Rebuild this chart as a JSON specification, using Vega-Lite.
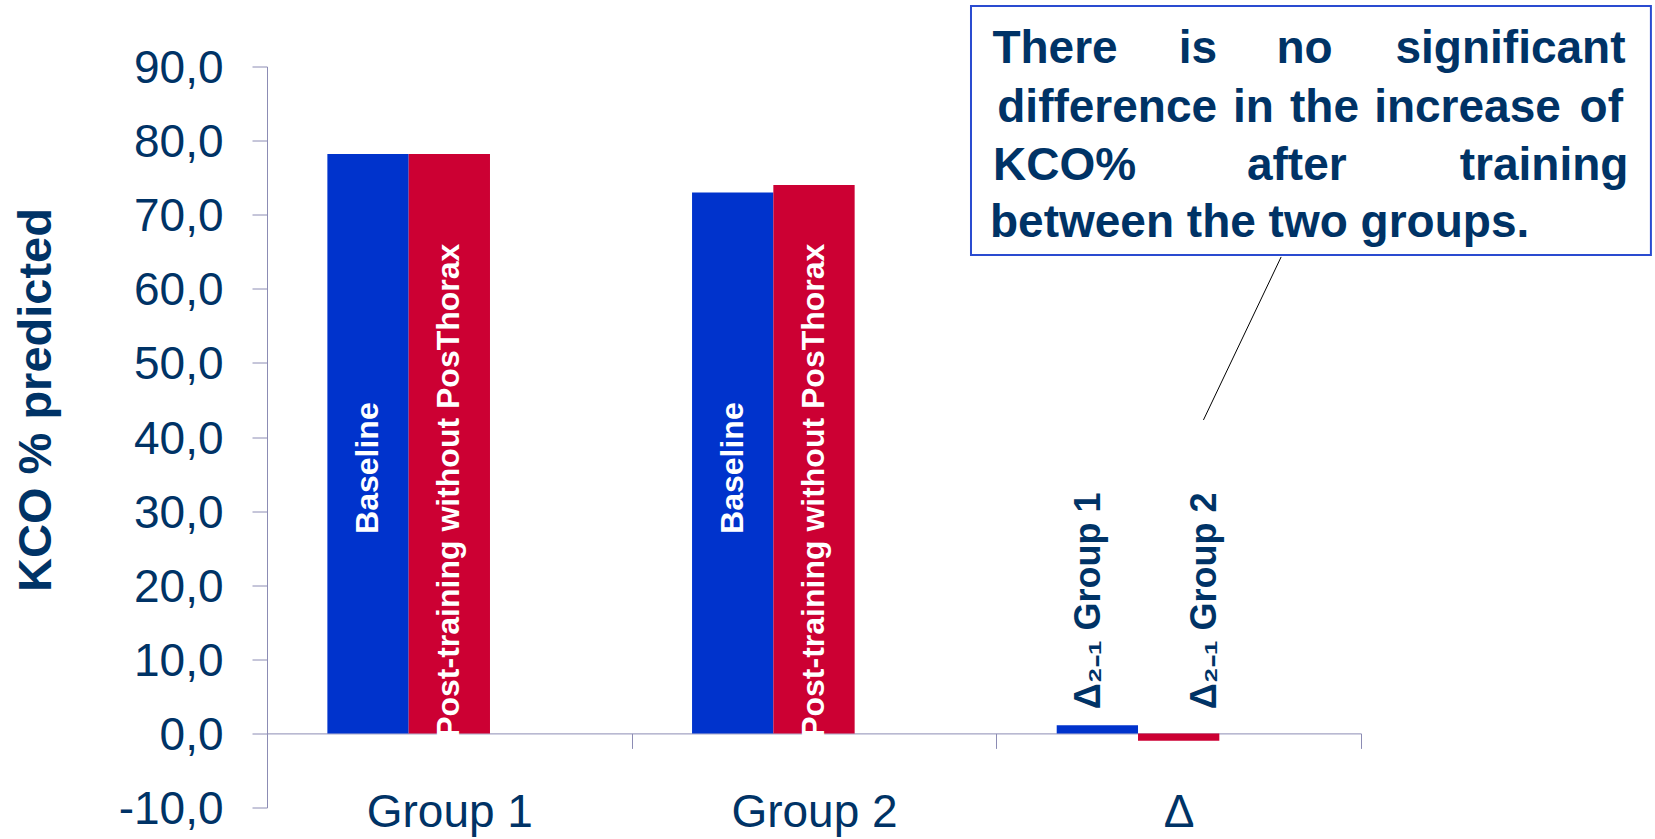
{
  "$schema": "https://vega.github.io/schema/vega-lite/v6.json",
  "width": 1094,
  "height": 741,
  "autosize": {"type": "none"},
  "padding": {"left": 267, "top": 66.5, "right": 294, "bottom": 31.5},
  "background": "white",
  "config": {"view": {"stroke": null}, "font": "Liberation Sans", "text": {"font": "Liberation Sans"}},
  "datasets": {
    "bars": [
      {"group": "Group 1", "slot": "s1", "value": 78.2},
      {"group": "Group 1", "slot": "s2", "value": 78.2},
      {"group": "Group 2", "slot": "s1", "value": 73.0},
      {"group": "Group 2", "slot": "s2", "value": 74.0},
      {"group": "Δ", "slot": "s1", "value": 1.1},
      {"group": "Δ", "slot": "s2", "value": -1.0}
    ],
    "barlabels": [
      {"group": "Group 1", "slot": "s1", "pos": 35.8, "label": "Baseline"},
      {"group": "Group 2", "slot": "s1", "pos": 35.8, "label": "Baseline"},
      {"group": "Group 1", "slot": "s2", "pos": 32.75, "label": "Post-training without PosThorax"},
      {"group": "Group 2", "slot": "s2", "pos": 32.75, "label": "Post-training without PosThorax"}
    ],
    "deltalabels": [
      {"group": "Δ", "slot": "s1", "pos": 17.9, "label": "Δ₂₋₁ Group 1"},
      {"group": "Δ", "slot": "s2", "pos": 17.9, "label": "Δ₂₋₁ Group 2"}
    ],
    "box": [{"x1": 1.9305, "x2": 3.795, "y1": 98.17, "y2": 64.57}],
    "leader": [{"x1": 2.781, "y1": 64.3, "x2": 2.568, "y2": 42.3}],
    "words": [
      {"w": "There", "ax": 2.161, "ay": 90.43},
      {"w": "is", "ax": 2.553, "ay": 90.43},
      {"w": "no", "ax": 2.845, "ay": 90.43},
      {"w": "significant", "ax": 3.41, "ay": 90.43},
      {"w": "difference", "ax": 2.304, "ay": 82.55},
      {"w": "in", "ax": 2.705, "ay": 82.55},
      {"w": "the", "ax": 2.9, "ay": 82.55},
      {"w": "increase", "ax": 3.292, "ay": 82.55},
      {"w": "of", "ax": 3.659, "ay": 82.55},
      {"w": "KCO%", "ax": 2.187, "ay": 74.69},
      {"w": "after", "ax": 2.824, "ay": 74.69},
      {"w": "training", "ax": 3.502, "ay": 74.69},
      {"w": "between the two groups.", "ax": 2.722, "ay": 67.04}
    ]
  },
  "layer": [
    {
      "data": {"name": "bars"},
      "mark": {"type": "bar"},
      "encoding": {
        "x": {
          "field": "group", "type": "nominal", "sort": null,
          "scale": {"domain": ["Group 1", "Group 2", "Δ"], "paddingInner": 0, "paddingOuter": 0},
          "axis": {
            "title": null, "orient": "bottom", "offset": -74.1, "tickBand": "extent",
            "tickSize": 15, "tickColor": "#8c8cb4", "domainColor": "#8c8cb4",
            "labelFont": "Liberation Sans", "labelFontSize": 46, "labelColor": "#003366",
            "labelBaseline": "alphabetic", "labelPadding": 78, "labelAngle": 0
          }
        },
        "xOffset": {
          "field": "slot", "type": "nominal",
          "scale": {"domain": ["s1", "s2", "s3"], "paddingInner": 0, "paddingOuter": 0.7426}
        },
        "y": {
          "field": "value", "type": "quantitative", "stack": null,
          "scale": {"domain": [-10, 90], "nice": false},
          "axis": {
            "title": "KCO % predicted", "orient": "left",
            "values": [-10, 0, 10, 20, 30, 40, 50, 60, 70, 80, 90],
            "labelExpr": "replace(replace(format(datum.value, '.1f'), '.', ','), '−', '-')",
            "labelFont": "Liberation Sans", "labelFontSize": 46, "labelColor": "#003366",
            "labelPadding": 29, "labelOffset": 2, "labelBaseline": "middle",
            "labelFlush": false, "labelOverlap": false,
            "tickSize": 15, "tickColor": "#8c8cb4", "domainColor": "#8c8cb4", "grid": false,
            "titleFont": "Liberation Sans", "titleFontSize": 47, "titleFontWeight": "bold",
            "titleColor": "#003366", "titleAngle": 270, "titleX": -231, "titleY": 333,
            "titleAlign": "center", "titleBaseline": "middle"
          }
        },
        "y2": {"datum": 0},
        "color": {
          "field": "slot", "type": "nominal",
          "scale": {"domain": ["s1", "s2"], "range": ["#0033cc", "#cc0033"]},
          "legend": null
        }
      }
    },
    {
      "data": {"name": "barlabels"},
      "mark": {"type": "text", "angle": 270, "align": "center", "baseline": "middle", "fontSize": 32, "fontWeight": "bold", "color": "white"},
      "encoding": {
        "x": {"field": "group", "type": "nominal", "sort": null, "scale": {"domain": ["Group 1", "Group 2", "Δ"], "paddingInner": 0, "paddingOuter": 0}, "axis": null},
        "xOffset": {"field": "slot", "type": "nominal", "scale": {"domain": ["s1", "s2", "s3"], "paddingInner": 0, "paddingOuter": 0.7426}},
        "y": {"field": "pos", "type": "quantitative", "axis": null},
        "text": {"field": "label"}
      }
    },
    {
      "data": {"name": "deltalabels"},
      "transform": [{"filter": "datum.slot == 's1'"}],
      "mark": {"type": "text", "angle": 270, "align": "center", "baseline": "middle", "fontSize": 36, "fontWeight": "bold", "color": "#003366", "dy": -8.5},
      "encoding": {
        "x": {"field": "group", "type": "nominal", "sort": null, "scale": {"domain": ["Group 1", "Group 2", "Δ"], "paddingInner": 0, "paddingOuter": 0}, "axis": null},
        "xOffset": {"field": "slot", "type": "nominal", "scale": {"domain": ["s1", "s2", "s3"], "paddingInner": 0, "paddingOuter": 0.7426}},
        "y": {"field": "pos", "type": "quantitative", "axis": null},
        "text": {"field": "label"}
      }
    },
    {
      "data": {"name": "deltalabels"},
      "transform": [{"filter": "datum.slot == 's2'"}],
      "mark": {"type": "text", "angle": 270, "align": "center", "baseline": "middle", "fontSize": 36, "fontWeight": "bold", "color": "#003366", "dy": 26},
      "encoding": {
        "x": {"field": "group", "type": "nominal", "sort": null, "scale": {"domain": ["Group 1", "Group 2", "Δ"], "paddingInner": 0, "paddingOuter": 0}, "axis": null},
        "xOffset": {"field": "slot", "type": "nominal", "scale": {"domain": ["s1", "s2", "s3"], "paddingInner": 0, "paddingOuter": 0.7426}},
        "y": {"field": "pos", "type": "quantitative", "axis": null},
        "text": {"field": "label"}
      }
    },
    {
      "data": {"name": "leader"},
      "mark": {"type": "rule", "color": "#000000", "strokeWidth": 1},
      "encoding": {
        "x": {"field": "x1", "type": "quantitative", "scale": {"domain": [0, 3], "nice": false, "zero": false}, "axis": null},
        "x2": {"field": "x2"},
        "y": {"field": "y1", "type": "quantitative", "axis": null},
        "y2": {"field": "y2"}
      }
    },
    {
      "data": {"name": "box"},
      "mark": {"type": "rect", "fill": "white", "stroke": "#2a4bd0", "strokeWidth": 2},
      "encoding": {
        "x": {"field": "x1", "type": "quantitative", "scale": {"domain": [0, 3], "nice": false, "zero": false}, "axis": null},
        "x2": {"field": "x2"},
        "y": {"field": "y1", "type": "quantitative", "axis": null},
        "y2": {"field": "y2"}
      }
    },
    {
      "data": {"name": "words"},
      "mark": {"type": "text", "align": "center", "baseline": "alphabetic", "fontSize": 46, "fontWeight": "bold", "color": "#003366"},
      "encoding": {
        "x": {"field": "ax", "type": "quantitative", "scale": {"domain": [0, 3], "nice": false, "zero": false}, "axis": null},
        "y": {"field": "ay", "type": "quantitative", "axis": null},
        "text": {"field": "w"}
      }
    }
  ],
  "resolve": {"scale": {"x": "independent"}, "axis": {"y": "independent"}}
}
